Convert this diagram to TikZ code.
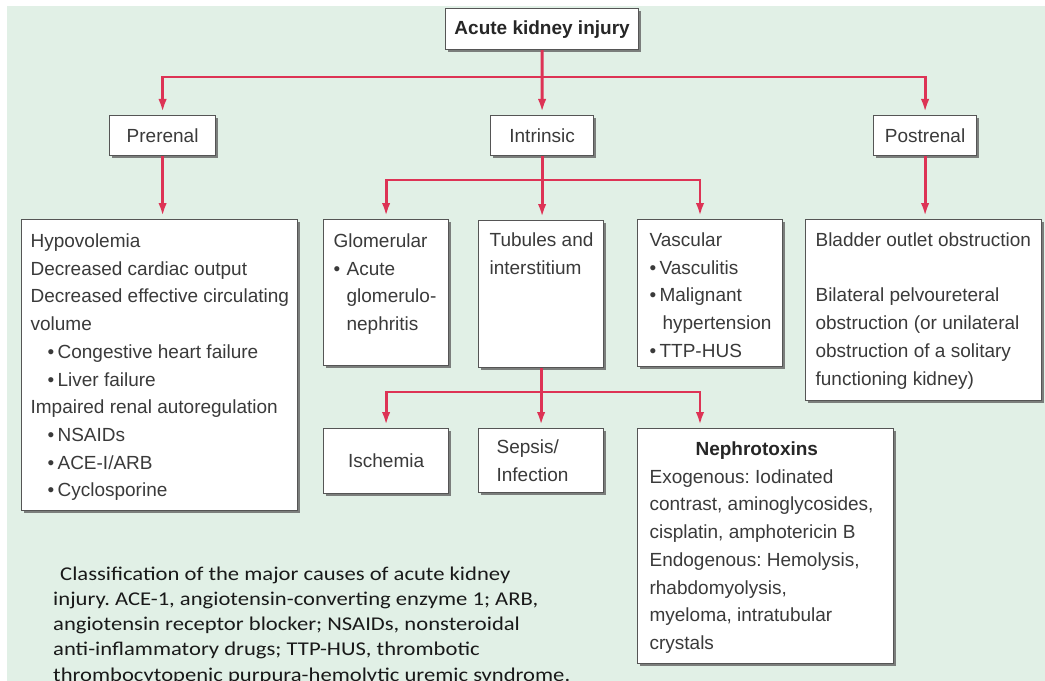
\documentclass[tikz,border=0pt]{standalone}
\usepackage{fontspec}
\setmainfont{Liberation Sans}
\newfontfamily\capfont{Carlito}[FakeStretch=1.16]
\usetikzlibrary{shadows,arrows.meta,calc}
\definecolor{mint}{HTML}{E1F0E6}
\definecolor{linkred}{HTML}{DD3355}
\definecolor{boxline}{HTML}{555555}
\definecolor{boxtext}{HTML}{3A3A3A}
\newcommand\bxf{\fontsize{19bp}{27.7bp}\selectfont}
\newcommand\tbx[3]{\begin{minipage}[t][#2][t]{#1}\begin{tabular}[t]{@{}l@{}}#3\end{tabular}\end{minipage}}
\newcommand\bul[1]{\makebox[#1][l]{\textbullet}}
\frenchspacing
\begin{document}
\begin{tikzpicture}[x=1bp,y=-1bp,
  box/.style={draw=boxline, line width=1.2bp, fill=white, text=boxtext, font=\bxf,
    anchor=north west,
    drop shadow={shadow xshift=2.5bp,shadow yshift=-2.5bp,fill=black!65,opacity=0.75}},
  sbox/.style={box, inner sep=0pt},
  link/.style={draw=linkred, line width=2.8bp},
  arr/.style={link, -{Latex[length=13bp,width=8.5bp]}, shorten >=3bp},
]
\useasboundingbox (0,0) rectangle (1045,681);
\clip (0,0) rectangle (1045,681);
\fill[white] (0,0) rectangle (1045,681);
\fill[mint] (7,6) rectangle (1045,681);

% top level
\node[sbox, minimum width=193bp, minimum height=41bp, text=black!85, font=\bxf\bfseries] (acute) at (445,8) {Acute kidney injury};
\node[sbox, minimum width=106bp, minimum height=40bp] (prerenal) at (109,115) {Prerenal};
\node[sbox, minimum width=103bp, minimum height=40bp] (intrinsic) at (490,115) {Intrinsic};
\node[sbox, minimum width=103bp, minimum height=40bp] (postrenal) at (873,115) {Postrenal};

% second level
\node[box, inner xsep=9bp, inner ysep=8.6bp] (big) at (21,219) {\tbx{258bp}{273.8bp}{%
Hypovolemia\\
Decreased cardiac output\\
Decreased effective circulating\\
volume\\
\hspace*{17bp}\bul{10bp}Congestive heart failure\\
\hspace*{17bp}\bul{10bp}Liver failure\\
Impaired renal autoregulation\\
\hspace*{17bp}\bul{10bp}NSAIDs\\
\hspace*{17bp}\bul{10bp}ACE-I/ARB\\
\hspace*{17bp}\bul{10bp}Cyclosporine}};

\node[box, inner xsep=10bp, inner ysep=8.6bp] (glom) at (323,219) {\tbx{105bp}{128.8bp}{%
Glomerular\\
\bul{13bp}Acute\\
\hspace*{13bp}glomerulo-\\
\hspace*{13bp}nephritis}};

\node[box, inner xsep=11bp, inner ysep=6.6bp] (tubules) at (478,220) {\tbx{103bp}{133.8bp}{%
Tubules and\\
interstitium}};

\node[box, inner xsep=12bp, inner ysep=7.6bp] (vasc) at (637,219) {\tbx{121bp}{131.8bp}{%
Vascular\\
\bul{10bp}Vasculitis\\
\bul{10bp}Malignant\\
\hspace*{13bp}hypertension\\
\bul{10bp}TTP-HUS}};

\node[box, inner xsep=10bp, inner ysep=7.6bp] (bladder) at (805,219) {\tbx{216bp}{165.8bp}{%
Bladder outlet obstruction\\
\\
Bilateral pelvoureteral\\
obstruction (or unilateral\\
obstruction of a solitary\\
functioning kidney)}};

% third level
\node[sbox, minimum width=125bp, minimum height=65bp] (ischemia) at (323,428) {Ischemia};
\node[box, inner xsep=18bp, inner ysep=0pt, text width=89bp, align=left, minimum width=125bp, minimum height=64bp] (sepsis) at (478,428) {Sepsis/\\Infection};
\node[box, inner xsep=12bp, inner ysep=7.6bp] (nephro) at (637,428) {\tbx{232bp}{219.8bp}{%
\hspace*{46bp}{\bfseries\color{black!85}Nephrotoxins}\\
Exogenous: Iodinated\\
contrast, aminoglycosides,\\
cisplatin, amphotericin B\\
Endogenous: Hemolysis,\\
rhabdomyolysis,\\
myeloma, intratubular\\
crystals}};

% caption
\node[anchor=base west, inner sep=0pt, text=black!90, font=\capfont\fontsize{19.5bp}{25.3bp}\selectfont] (caption) at (53,580) {\begin{minipage}[t]{620bp}%
\hspace*{7bp}Classification of the major causes of acute kidney\\
injury. ACE-1, angiotensin-converting enzyme 1; ARB,\\
angiotensin receptor blocker; NSAIDs, nonsteroidal\\
anti-inflammatory drugs; TTP-HUS, thrombotic\\
thrombocytopenic purpura-hemolytic uremic syndrome.\end{minipage}};

% connectors
\coordinate (bar1) at (0,77);
\coordinate (bar2) at (0,180);
\coordinate (bar3) at (0,392);
\coordinate (vx) at (700,0);

\draw[arr] (acute.south) -- (intrinsic.north);
\draw[arr] (acute.south |- bar1) -| (prerenal.north);
\draw[arr] (acute.south |- bar1) -| (postrenal.north);
\draw[arr] (prerenal.south) -- (prerenal.south |- big.north);
\draw[arr] (intrinsic.south) -- (intrinsic.south |- tubules.north);
\draw[arr] (intrinsic.south |- bar2) -| (glom.north);
\draw[arr] (intrinsic.south |- bar2) -| (vasc.north -| vx);
\draw[arr] (postrenal.south) -- (postrenal.south |- bladder.north);
\draw[arr] (tubules.south) -- (tubules.south |- sepsis.north);
\draw[arr] (tubules.south |- bar3) -| (ischemia.north);
\draw[arr] (tubules.south |- bar3) -| (nephro.north -| vx);
\end{tikzpicture}
\end{document}
